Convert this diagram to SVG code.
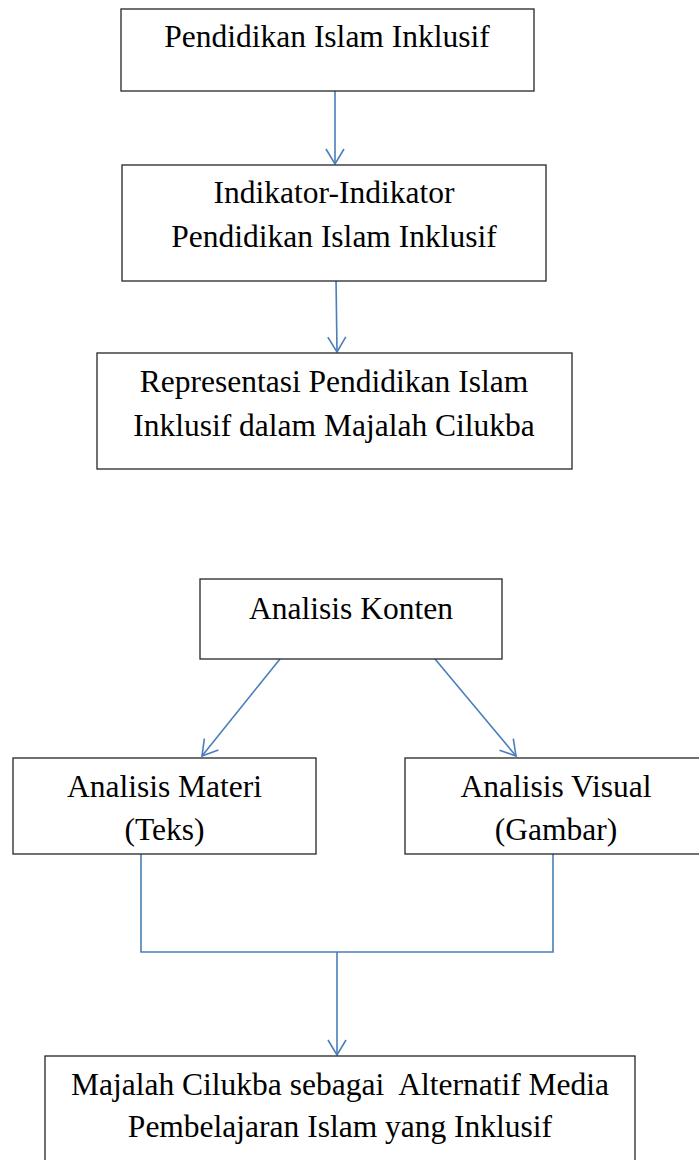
<svg xmlns="http://www.w3.org/2000/svg" width="699" height="1160" viewBox="0 0 699 1160">
<style>
  .box { fill: #ffffff; stroke: #262626; stroke-width: 1.3; }
  .lbl { font-family: "Liberation Serif", "Times New Roman", serif; font-size: 31.5px; fill: #000000; text-anchor: middle; white-space: pre; }
  .conn { fill: none; stroke: #4a7ebb; stroke-width: 1.6; }
</style>
<defs>
  <marker id="arr" markerUnits="userSpaceOnUse" markerWidth="40" markerHeight="40" refX="0" refY="0" orient="auto" overflow="visible">
    <path d="M-15,-9 L0,0 L-15,9" fill="none" stroke="#4a7ebb" stroke-width="1.6"/>
  </marker>
</defs>
<rect width="699" height="1160" fill="#ffffff"/>
<g id="connectors">
  <line class="conn" x1="335" y1="91" x2="335" y2="164" marker-end="url(#arr)"/>
  <line class="conn" x1="336" y1="278" x2="337" y2="352" marker-end="url(#arr)"/>
  <line class="conn" x1="280" y1="659" x2="202" y2="756" marker-end="url(#arr)"/>
  <line class="conn" x1="435" y1="659" x2="516" y2="756" marker-end="url(#arr)"/>
  <polyline class="conn" points="141,854 141,952 553,952 553,854"/>
  <line class="conn" x1="337" y1="952" x2="337" y2="1055" marker-end="url(#arr)"/>
</g>
<g id="node-pendidikan">
  <rect class="box" x="121" y="9" width="413" height="82"/>
  <text class="lbl" x="327" y="47">Pendidikan Islam Inklusif</text>
</g>
<g id="node-indikator">
  <rect class="box" x="122" y="165" width="424" height="116"/>
  <text class="lbl" x="334" y="203">Indikator-Indikator</text>
  <text class="lbl" x="334" y="247">Pendidikan Islam Inklusif</text>
</g>
<g id="node-representasi">
  <rect class="box" x="97" y="353" width="475" height="116"/>
  <text class="lbl" x="334" y="392">Representasi Pendidikan Islam</text>
  <text class="lbl" x="334" y="436">Inklusif dalam Majalah Cilukba</text>
</g>
<g id="node-analisis-konten">
  <rect class="box" x="200" y="579" width="302" height="80"/>
  <text class="lbl" x="351" y="619">Analisis Konten</text>
</g>
<g id="node-analisis-materi">
  <rect class="box" x="13" y="758" width="303" height="96"/>
  <text class="lbl" x="164.5" y="797">Analisis Materi</text>
  <text class="lbl" x="164.5" y="840">(Teks)</text>
</g>
<g id="node-analisis-visual">
  <rect class="box" x="405" y="758" width="302" height="96"/>
  <text class="lbl" x="556" y="797">Analisis Visual</text>
  <text class="lbl" x="556" y="840">(Gambar)</text>
</g>
<g id="node-majalah">
  <rect class="box" x="45" y="1056" width="590" height="110"/>
  <text class="lbl" x="340" y="1095">Majalah Cilukba sebagai  Alternatif Media</text>
  <text class="lbl" x="340" y="1137">Pembelajaran Islam yang Inklusif</text>
</g>
</svg>
